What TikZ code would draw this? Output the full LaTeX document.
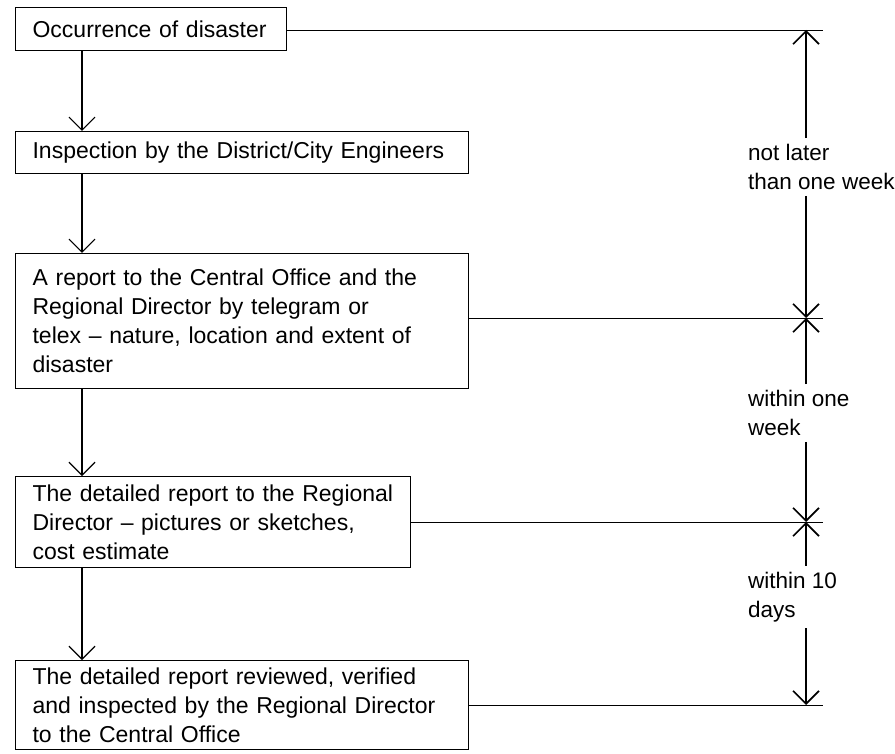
\documentclass[tikz,border=0pt]{standalone}
\usepackage{fontspec}
\setmainfont{Liberation Sans}
\usetikzlibrary{arrows.meta}

\begin{document}
\begin{tikzpicture}[
    x=1pt, y=-1pt,
    font=\fontsize{22.5}{29}\selectfont,
    box/.style={
        draw,
        line width=1.2pt,
        anchor=north west,
        inner xsep=17pt,
        inner ysep=0pt,
        align=left,
        font=\fontsize{23}{29}\selectfont
    },
    arrow/.style={-{Straight Barb[length=13pt, width=26pt]}, line width=1.2pt},
    timeline/.style={arrow, line width=1.6pt},
    link/.style={line width=0.8pt},
    note/.style={anchor=west, align=left, inner xsep=0pt, inner ysep=6pt}
]
\useasboundingbox (0,0) rectangle (895,754);

% the chain of steps
\node[box, text width=237pt, minimum height=43pt] (occur) at (15,7) {Occurrence of disaster};
\node[box, text width=419pt, minimum height=42pt] (inspect) at (15,131) {Inspection by the District/City Engineers};
\node[box, text width=419pt, minimum height=135pt] (report) at (15,253)
    {A report to the Central Office and the\\Regional Director by telegram or\\telex -- nature, location and extent of\\disaster};
\node[box, text width=361pt, minimum height=91pt] (detail) at (15,476)
    {The detailed report to the Regional\\Director -- pictures or sketches,\\cost estimate};
\node[box, text width=419pt, minimum height=89pt] (review) at (15,660)
    {The detailed report reviewed, verified\\and inspected by the Regional Director\\to the Central Office};

\draw[arrow] ([xshift=67pt]occur.south west) -- ([xshift=67pt]inspect.north west);
\draw[arrow] ([xshift=67pt]inspect.south west) -- ([xshift=67pt]report.north west);
\draw[arrow] ([xshift=67pt]report.south west) -- ([xshift=67pt]detail.north west);
\draw[arrow] ([xshift=67pt]detail.south west) -- ([xshift=67pt]review.north west);

% time limits on the right
\coordinate (t0) at (806,30);
\coordinate (t1) at (806,318);
\coordinate (t2) at (806,522);
\coordinate (t3) at (806,705);

\node[note] (lim1) at (748,167) {not later\\than one week};
\node[note] (lim2) at (748,413) {within one\\week};
\node[note] (lim3) at (748,597) {within 10\\days};

\draw[link] (occur.east |- t0) -- ([xshift=17pt]t0);
\draw[link] (report.east |- t1) -- ([xshift=17pt]t1);
\draw[link] (detail.east |- t2) -- ([xshift=17pt]t2);
\draw[link] (review.east |- t3) -- ([xshift=17pt]t3);

\draw[timeline] (lim1.north -| t0) -- (t0);
\draw[timeline] (lim1.south -| t0) -- (t1);
\draw[timeline] (lim2.north -| t0) -- (t1);
\draw[timeline] (lim2.south -| t0) -- (t2);
\draw[timeline] (lim3.north -| t0) -- (t2);
\draw[timeline] (lim3.south -| t0) -- (t3);

\end{tikzpicture}
\end{document}
